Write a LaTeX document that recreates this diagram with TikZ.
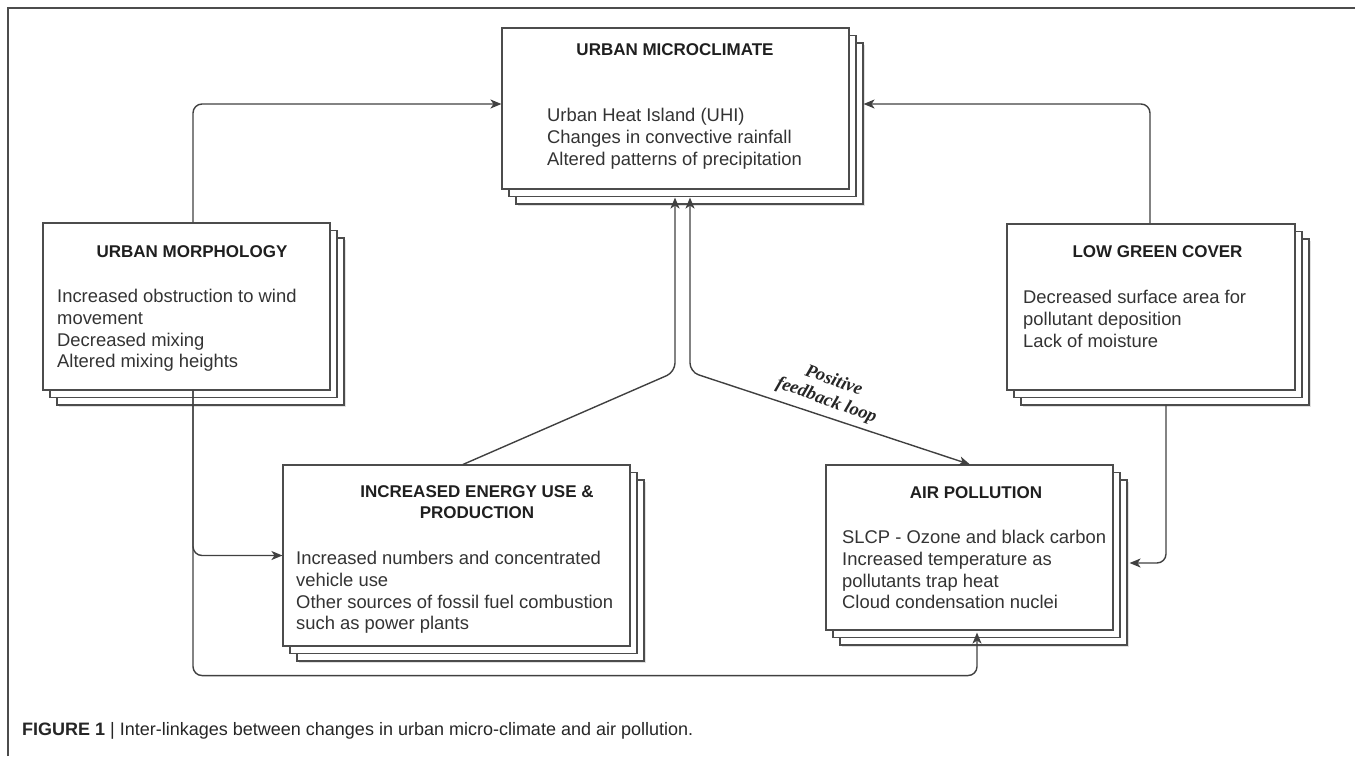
\documentclass[tikz,border=0pt]{standalone}
\usepackage{fontspec}
\setmainfont{Liberation Sans}
\newfontfamily\fbfont{Liberation Serif}
\usetikzlibrary{shadows,arrows.meta,calc}
\begin{document}
\begin{tikzpicture}[x=1pt,y=-1pt,
  edgecol/.style={draw=black!70, line width=1.1pt},
  stackbox/.style={rectangle, inner sep=0pt, fill=white, edgecol,
    general shadow={shadow xshift=16pt, shadow yshift=-17pt, fill=black, opacity=0.12},
    general shadow={shadow xshift=14pt, shadow yshift=-15pt, fill=white, edgecol},
    general shadow={shadow xshift=7pt, shadow yshift=-7.5pt, fill=white, edgecol}},
  boxtitle/.style={inner sep=0pt, align=center, text=black!88, font=\bfseries\fontsize{17}{21}\selectfont},
  boxbody/.style={inner sep=0pt, anchor=north west, align=left, text=black!80, font=\fontsize{18.4}{21.8}\selectfont},
  conn/.style={draw=black!75, line width=1.4pt, rounded corners=9pt},
  tip/.style={Stealth[length=11pt,width=9pt,inset=3pt]},
  arr/.style={-{Stealth[length=11pt,width=9pt,inset=3pt]}},
  arrboth/.style={{Stealth[length=11pt,width=9pt,inset=3pt]}-{Stealth[length=11pt,width=9pt,inset=3pt]}},
  frame/.style={draw=black!70, line width=1.5pt},
  fb/.style={inner sep=0pt, align=center, text=black!85, font=\fbfont\bfseries\itshape\fontsize{18.5}{21}\selectfont},
  caption/.style={inner sep=0pt, text=black!85, font=\fontsize{18}{21}\selectfont}]
\useasboundingbox (0,0) rectangle (1355,756);
\draw[frame] (8,756) -- (8,8) -- (1355,8);

% boxes
\node[stackbox, minimum width=347pt, minimum height=161pt] (MC) at (675.5,108.5) {};
\node[stackbox, minimum width=287pt, minimum height=167pt] (UM) at (186.5,306.5) {};
\node[stackbox, minimum width=288pt, minimum height=166pt] (LGC) at (1151,307) {};
\node[stackbox, minimum width=347pt, minimum height=181pt] (EN) at (456.5,555.5) {};
\node[stackbox, minimum width=287pt, minimum height=165pt] (AP) at (969.5,547.5) {};

% titles
\node[boxtitle] (MCt) at (675,50) {URBAN MICROCLIMATE};
\node[boxtitle] (UMt) at (192,252) {URBAN MORPHOLOGY};
\node[boxtitle] (LGCt) at (1157.5,252) {LOW GREEN COVER};
\node[boxtitle] (ENt) at (477,502.5) {INCREASED ENERGY USE \&\\PRODUCTION};
\node[boxtitle] (APt) at (976,493) {AIR POLLUTION};

% bodies
\node[boxbody] (MCb) at (547,108) {Urban Heat Island (UHI)\\Changes in convective rainfall\\Altered patterns of precipitation};
\node[boxbody] (UMb) at (57,289) {Increased obstruction to wind\\movement\\Decreased mixing\\Altered mixing heights};
\node[boxbody] (LGCb) at (1023,290) {Decreased surface area for\\pollutant deposition\\Lack of moisture};
\node[boxbody] (ENb) at (296,551) {Increased numbers and concentrated\\vehicle use\\Other sources of fossil fuel combustion\\such as power plants};
\node[boxbody] (APb) at (842,530) {SLCP - Ozone and black carbon\\Increased temperature as\\pollutants trap heat\\Cloud condensation nuclei};

% connectors
\coordinate (j1) at (675,372);
\coordinate (j2) at (690,372);
\draw[conn,arr] ($(UM.north)+(6.5,0)$) |- ($(MC.west)+(0,-4.5)$);
\draw[conn,arr] ($(LGC.north)+(-1,0)$) |- ($(MC.east)+(14,-4.5)$);
\draw[conn,arr] ($(UM.south)+(6.5,0)$) |- (EN.west);
\draw[conn,arr] ($(UM.south)+(6.5,0)$) -- ++(0,285) -| ($(AP.south)+(7.5,2)$);
\draw[conn,arr] ($(EN.north)+(6.5,0)$) -- (j1) -- ($(MC.south)+(-0.5,8)$);
\draw[conn,arrboth] ($(MC.south)+(14.5,8)$) -- (j2) -- ($(AP.north)+(0.5,0)$);
\draw[conn,arr] ($(LGC.south)+(15,14)$) |- ($(AP.east)+(16,15.5)$);

\node[fb, rotate=-20] (FB) at (830,391) {Positive\\feedback loop};

\node[caption, anchor=base west] (CAP) at (22,735) {\textbf{FIGURE 1} | Inter-linkages between changes in urban micro-climate and air pollution.};
\end{tikzpicture}
\end{document}
